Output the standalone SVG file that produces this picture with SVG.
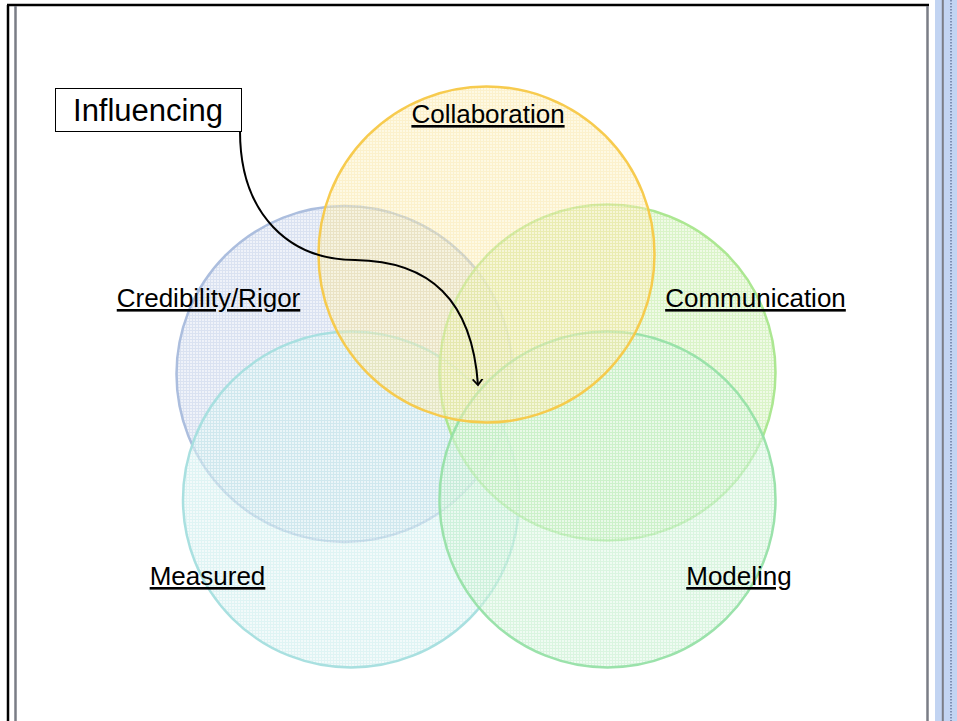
<svg xmlns="http://www.w3.org/2000/svg" width="957" height="721" viewBox="0 0 957 721">
<style>
.lbl{font-family:"Liberation Sans",Arial,sans-serif;font-size:26px;fill:#000;text-decoration:underline;text-anchor:middle}
.c{stroke-width:2.5}
</style>
<defs>
<pattern id="pY" width="3" height="3" patternUnits="userSpaceOnUse"><rect width="3" height="3" fill="#fdf3c8"/><rect width="3" height="1" fill="#f9e49a"/><rect width="1" height="3" fill="#f9e49a"/></pattern>
<pattern id="pB" width="3" height="3" patternUnits="userSpaceOnUse"><rect width="3" height="3" fill="#e9eef7"/><rect width="3" height="1" fill="#cdd8ec"/><rect width="1" height="3" fill="#cdd8ec"/></pattern>
<pattern id="pG" width="3" height="3" patternUnits="userSpaceOnUse"><rect width="3" height="3" fill="#e9f8de"/><rect width="3" height="1" fill="#cdf0b5"/><rect width="1" height="3" fill="#cdf0b5"/></pattern>
<pattern id="pT" width="3" height="3" patternUnits="userSpaceOnUse"><rect width="3" height="3" fill="#e9f7f7"/><rect width="3" height="1" fill="#caecec"/><rect width="1" height="3" fill="#caecec"/></pattern>
<pattern id="pM" width="3" height="3" patternUnits="userSpaceOnUse"><rect width="3" height="3" fill="#e5f8e9"/><rect width="3" height="1" fill="#c2efcc"/><rect width="1" height="3" fill="#c2efcc"/></pattern>
<marker id="arr" markerWidth="12" markerHeight="12" refX="6" refY="6" orient="auto" markerUnits="userSpaceOnUse" viewBox="0 0 12 12"><path d="M0,1 L6,6 L0,11" fill="none" stroke="#000" stroke-width="1.8"/></marker>
</defs>
<rect width="957" height="721" fill="#fff"/>
<g id="frame">
<line x1="8" y1="5" x2="8" y2="721" stroke="#000" stroke-width="2.5"/>
<line x1="7" y1="5" x2="929" y2="5" stroke="#000" stroke-width="2.5"/>
<line x1="15.5" y1="6" x2="15.5" y2="721" stroke="#7a7d86" stroke-width="2.5"/>
<line x1="927.5" y1="6" x2="927.5" y2="721" stroke="#7a7d86" stroke-width="2.5"/>
<rect x="935" y="0" width="22" height="721" fill="#c2d4f2"/>
<line x1="942.8" y1="0" x2="942.8" y2="721" stroke="#7a7d86" stroke-width="2"/>
<line x1="951" y1="0" x2="951" y2="721" stroke="#6a7aa0" stroke-width="1.5" stroke-dasharray="1.5,1.5"/>
</g>
<g id="circles" stroke-opacity="0.95">
<g id="credibility"><circle class="c" cx="344.5" cy="374" r="168" fill="url(#pB)" fill-opacity="0.75" stroke="#a8bbdc"/></g>
<g id="measured"><circle class="c" cx="351" cy="499.5" r="168" fill="url(#pT)" fill-opacity="0.6" stroke="#a4dede"/></g>
<g id="communication"><circle class="c" cx="607.5" cy="372.5" r="168" fill="url(#pG)" fill-opacity="0.75" stroke="#a8e68c"/></g>
<g id="modeling"><circle class="c" cx="607.5" cy="499.5" r="168" fill="url(#pM)" fill-opacity="0.6" stroke="#96e0a6"/></g>
<g id="collaboration"><circle class="c" cx="486.5" cy="254.5" r="168" fill="url(#pY)" fill-opacity="0.5" stroke="#f7c846"/></g>
</g>
<g id="labels">
<text class="lbl" x="488" y="123">Collaboration</text>
<text class="lbl" x="208.5" y="307">Credibility/Rigor</text>
<text class="lbl" x="755.5" y="307">Communication</text>
<text class="lbl" x="207.5" y="585">Measured</text>
<text class="lbl" x="739" y="585">Modeling</text>
</g>
<g id="influencing">
<rect x="55.5" y="88.5" width="186" height="43" fill="#fff" stroke="#000" stroke-width="1"/>
<text x="148" y="121" font-family="'Liberation Sans',Arial,sans-serif" font-size="31" text-anchor="middle" fill="#000">Influencing</text>
</g>
<g id="connectors">
<path d="M240,131 C240,215 290,260 355,260 C430,261 472,300 478,385" fill="none" stroke="#000" stroke-width="2" marker-end="url(#arr)"/>
</g>
</svg>
